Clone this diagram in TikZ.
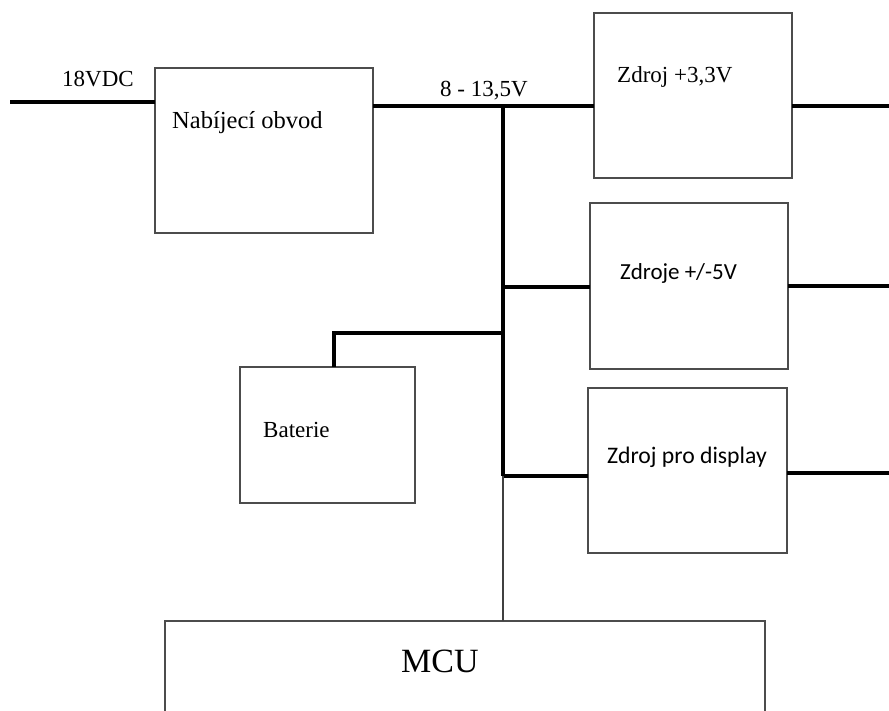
\documentclass[tikz,border=0pt]{standalone}
\usepackage{fontspec}
\setmainfont{Liberation Serif}
\newfontfamily\calib{Carlito}
\begin{document}
\begin{tikzpicture}[x=1pt,y=-1pt,
 blk/.style={draw=black!70, line width=1.5pt, anchor=north west, inner sep=0pt, outer sep=0pt},
 wire/.style={line width=4pt, black},
 thinwire/.style={line width=1.5pt, black!75},
 lbl/.style={anchor=base west, inner sep=0pt, font=\fontsize{23}{23}\selectfont},
 slbl/.style={anchor=base west, inner sep=0pt, font=\calib\fontsize{23}{23}\selectfont}]
\useasboundingbox (0,0) rectangle (889,711);
\clip (0,0) rectangle (889,711);
% blocks
\node[blk, minimum width=218pt, minimum height=165pt] (nab) at (155,68) {};
\node[blk, minimum width=198pt, minimum height=165pt] (z33) at (594,13) {};
\node[blk, minimum width=198pt, minimum height=166pt] (z5) at (590,203) {};
\node[blk, minimum width=175pt, minimum height=136pt] (bat) at (240,367) {};
\node[blk, minimum width=199pt, minimum height=165pt] (zd) at (588,388) {};
\node[blk, minimum width=600pt, minimum height=120pt] (mcu) at (165,621) {};
% labels
\node[lbl] (t18) at (62,87) {18VDC};
\node[lbl, font=\fontsize{24.5}{24.5}\selectfont] (tnab) at (172,129) {Nabíjecí obvod};
\node[lbl] (tv) at (440,97) {8 - 13,5V};
\node[lbl] (t33) at (617,83) {Zdroj +3,3V};
\node[slbl] (t5) at (620,280) {Zdroje +/-5V};
\node[lbl] (tbat) at (263,437) {Baterie};
\node[slbl, font=\calib\fontsize{23.7}{23.7}\selectfont] (tzd) at (607,463) {Zdroj pro display};
\node[lbl, font=\fontsize{34}{34}\selectfont] (tmcu) at (401,672) {MCU};
% wires
\coordinate (in) at (10,102);
\draw[wire, line width=4.5pt] (in) -- (in -| nab.west);
\coordinate (j1) at (503,106);
\draw[wire] (nab.east |- j1) -- (j1) -- (z33.west |- j1);
\coordinate (o1) at (889,106);
\draw[wire] (z33.east |- o1) -- (o1);
\coordinate (j4) at (503,476);
\draw[wire] (j1) -- (j4);
\coordinate (j2) at (503,287);
\draw[wire] (j2) -- (z5.west |- j2);
\coordinate (o2) at (889,286);
\draw[wire] (z5.east |- o2) -- (o2);
\coordinate (j3) at (503,333);
\coordinate (bc) at (334,333);
\draw[wire] (j3) -- (bc) -- (bc |- bat.north);
\draw[wire] (j4) -- (zd.west |- j4);
\coordinate (o3) at (889,473);
\draw[wire] (zd.east |- o3) -- (o3);
\draw[thinwire] (j4) -- (j4 |- mcu.north);
\end{tikzpicture}
\end{document}
